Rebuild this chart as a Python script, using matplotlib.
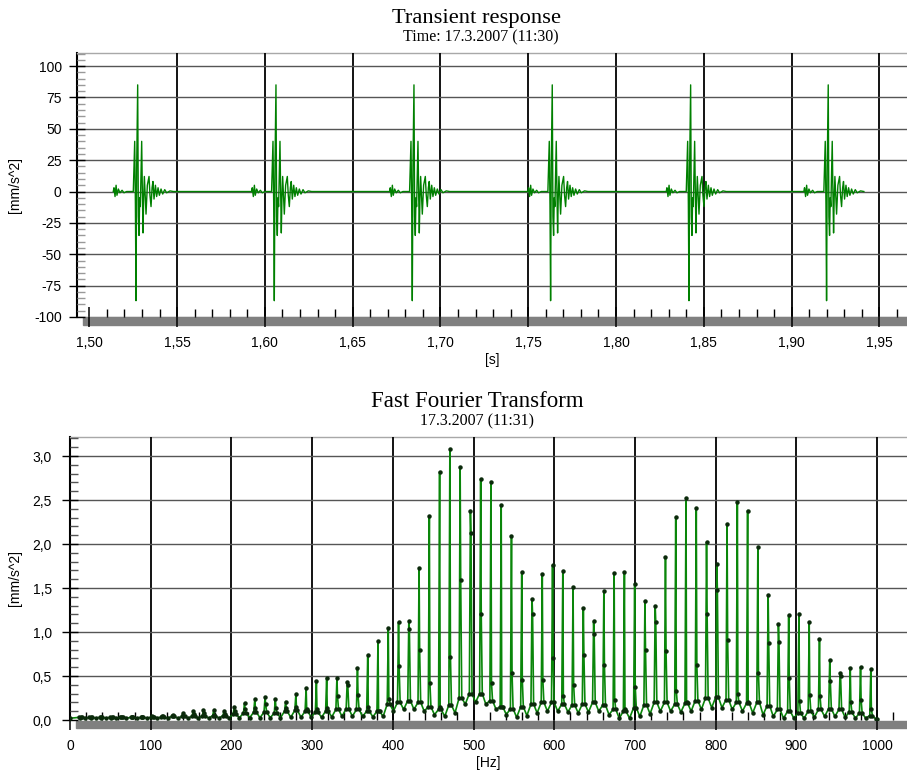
import numpy as np
import matplotlib
matplotlib.use('Agg')
import matplotlib.pyplot as plt
from matplotlib.ticker import MultipleLocator, FuncFormatter
from matplotlib.patches import Rectangle

# ---------------------------------------------------------------
#  transient response: six hits, each burst has the same shape
# ---------------------------------------------------------------
burst_peak_t = [1.52756, 1.60632, 1.68491, 1.76367, 1.84248, 1.92084]

burst_dt_ms = [-13.9, -13.5, -12.9, -12.3, -11.8, -11.0, -10.1, -8.9, -7.8, -6.3,
               -2.5, -1.7, -1.3, -0.95, -0.57, 0.0, 0.38, 0.76, 1.14, 1.5,
               1.9, 2.28, 2.66, 3.04, 3.4, 3.8, 4.2, 4.75, 5.5, 6.46,
               7.0, 7.6, 8.2, 8.7, 9.3, 10.1, 10.8, 11.6, 12.35, 13.3,
               14.25, 15.4, 16.5, 18.4, 20.3]
burst_val = [0, 3, -4, 5, -3, 2, -1, 1, -1, 0,
             0, 40, -10, -87, 20, 85, -20, -35, -5, -12,
             15, 40, 0, -33, -5, 12, 0, -18, 5, 12,
             -3, -12, 3, 8, -6, 5, -4, 3, -3, 2,
             -2, 1.5, -1, 0.5, 0]

time_ticks = [1.50, 1.55, 1.60, 1.65, 1.70, 1.75, 1.80, 1.85, 1.90, 1.95]
acc_ticks = [-100, -75, -50, -25, 0, 25, 50, 75, 100]

# ---------------------------------------------------------------
#  FFT: harmonics of the hit rate (k = 1..78)
# ---------------------------------------------------------------
f0 = 12.72  # Hz

peak = [0.02, 0.02, 0.02, 0.025, 0.03, 0.03, 0.035, 0.04,
        0.046, 0.06, 0.08, 0.10, 0.11, 0.11, 0.10, 0.15, 0.19, 0.24, 0.26, 0.24,
        0.21, 0.29, 0.36, 0.44, 0.48, 0.48, 0.43, 0.59, 0.74, 0.90,
        1.04, 1.11, 1.125, 1.73, 2.32, 2.82, 3.08, 2.875, 2.38, 2.74,
        2.71, 2.44, 2.09, 1.68, 1.375, 1.66, 1.76, 1.69, 1.51, 1.27,
        1.12, 1.47, 1.67, 1.68, 1.55, 1.35, 1.29, 1.85, 2.31, 2.52,
        2.41, 2.02, 1.77, 2.23, 2.48, 2.38, 1.97, 1.42, 1.09, 1.19,
        1.21, 1.11, 0.92, 0.68, 0.53, 0.59, 0.60, 0.58]
shoulder = [0.03, 0.03, 0.03, 0.03, 0.03, 0.03, 0.03, 0.03,
            0.04, 0.05, 0.05, 0.07, 0.08, 0.06, 0.07, 0.10, 0.12, 0.14, 0.18, 0.14,
            0.14, 0.15, 0.12, 0.12, 0.14, 0.27, 0.40, 0.28, 0.15, 0.10,
            0.24, 0.61, 1.03, 0.79, 0.42, 0.15, 0.72, 1.59, 2.125, 1.20,
            0.42, 0.15, 0.53, 0.45, 1.21, 0.46, 0.71, 0.27, 0.40, 0.74,
            0.98, 0.62, 0.23, 0.13, 0.38, 0.80, 1.11, 0.78, 0.33, 0.20,
            0.63, 1.21, 1.48, 0.91, 0.29, 0.20, 0.53, 0.87, 0.89, 0.48,
            0.22, 0.28, 0.27, 0.44, 0.50, 0.20, 0.23, 0.12]
skirt = [0.03, 0.03, 0.03, 0.03, 0.03, 0.03, 0.03, 0.03,
         0.035, 0.04, 0.04, 0.045, 0.05, 0.05, 0.05, 0.07, 0.08, 0.09, 0.09, 0.08,
         0.10, 0.11, 0.10, 0.09, 0.10, 0.12, 0.13, 0.12, 0.10, 0.10,
         0.18, 0.20, 0.22, 0.20, 0.15, 0.12, 0.17, 0.25, 0.30, 0.30,
         0.22, 0.15, 0.13, 0.15, 0.18, 0.20, 0.20, 0.18, 0.17, 0.18,
         0.20, 0.17, 0.12, 0.10, 0.14, 0.17, 0.20, 0.20, 0.18, 0.19,
         0.22, 0.25, 0.26, 0.23, 0.20, 0.19, 0.20, 0.16, 0.12, 0.10,
         0.08, 0.10, 0.12, 0.13, 0.12, 0.09, 0.08, 0.05]
trough = [0.02] * 15 + [0.025] * 5 + \
         [0.03, 0.03, 0.03, 0.03, 0.035, 0.04, 0.04, 0.04, 0.035, 0.04,
          0.10, 0.12, 0.12, 0.10, 0.06, 0.04, 0.08, 0.18, 0.20, 0.18,
          0.12, 0.06, 0.03, 0.05, 0.08, 0.10, 0.10, 0.09, 0.08, 0.09,
          0.10, 0.06, 0.02, 0.02, 0.04, 0.07, 0.10, 0.10, 0.09, 0.10,
          0.12, 0.14, 0.14, 0.12, 0.10, 0.08, 0.06, 0.04, 0.02, 0.02,
          0.02, 0.03, 0.04, 0.04, 0.03, 0.02, 0.02, 0.01]

freq_ticks = [0, 100, 200, 300, 400, 500, 600, 700, 800, 900, 1000]
amp_ticks = [0.0, 0.5, 1.0, 1.5, 2.0, 2.5, 3.0]


###########################
#  build the curves
###########################
t_sig, a_sig = [], []
for tp in burst_peak_t:
    for dt, v in zip(burst_dt_ms, burst_val):
        t_sig.append(tp + dt / 1000.0)
        a_sig.append(v)

f_sig, m_sig = [0.0], [0.02]
for k in range(len(peak)):
    fk = (k + 1) * f0
    f_sig += [fk - 1.3, fk, fk + 0.7, fk + 2.0, fk + f0 / 2]
    m_sig += [skirt[k], peak[k], shoulder[k], skirt[k], trough[k]]
f_sig.append(1000.0)
m_sig.append(0.01)


###########################
#  figure
###########################
W, H = 907, 773
plt.rcParams['font.family'] = ['Liberation Sans', 'DejaVu Sans']
plt.rcParams['axes.unicode_minus'] = False
fig = plt.figure(figsize=(W / 100, H / 100), dpi=100)


def fx(px):
    return px / W


def fy(py):
    return 1 - py / H


def style_axes(ax, left_px, bottom_px, minor_col, ypad):
    for s in ['right', 'bottom']:
        ax.spines[s].set_visible(False)
    ax.spines['top'].set_color('#a8a8a8')
    ax.spines['top'].set_linewidth(1.0)
    ax.spines['left'].set_color('black')
    ax.spines['left'].set_linewidth(1.5)
    ax.tick_params(axis='x', which='major', direction='inout', length=14, width=1.1,
                   color='black', labelsize=10, pad=7)
    ax.tick_params(axis='x', which='minor', direction='in', length=6, width=1.0, color='black')
    ax.tick_params(axis='y', which='major', direction='inout', length=11, width=1.0,
                   color='black', labelsize=10, pad=ypad)
    ax.tick_params(axis='y', which='minor', direction='in', length=6, width=1.0, color=minor_col)
    ax.set_axisbelow(False)
    # grey shadow bar under the plot
    fig.add_artist(Rectangle((fx(left_px + 6), fy(bottom_px + 8)), 1 - fx(left_px + 6),
                             fy(bottom_px + 0.5) - fy(bottom_px + 8),
                             transform=fig.transFigure, color='#808080', zorder=-1))


# ---------------- Transient response ----------------
ax1 = fig.add_axes([fx(77), fy(317), 1 - fx(77), fy(52.5) - fy(317)])
ax1.plot(t_sig, a_sig, color='#008000', lw=1.0, zorder=3)
ax1.set_xlim(1.4930, 1.9657)
ax1.set_ylim(-100, 110.8)
ax1.set_xticks(time_ticks)
ax1.set_yticks(acc_ticks)
ax1.xaxis.set_minor_locator(MultipleLocator(0.01))
ax1.yaxis.set_minor_locator(MultipleLocator(5))
ax1.xaxis.set_major_formatter(FuncFormatter(lambda v, p: f'{v:.2f}'.replace('.', ',')))
ax1.yaxis.set_major_formatter(FuncFormatter(lambda v, p: f'{v:.0f}'))
ax1.grid(axis='x', color='black', lw=1.3)
ax1.grid(axis='y', color='#555555', lw=1.0)
ax1.get_xgridlines()[0].set_visible(False)
style_axes(ax1, 77, 317, '#999999', 5.5)
ax1.set_xlabel('[s]', fontsize=10, labelpad=2)

fig.text(fx(476), fy(23), 'Transient response', family='Liberation Serif',
         fontsize=16.2, ha='center', va='baseline')
fig.text(fx(481), fy(41), 'Time: 17.3.2007 (11:30)', family='Liberation Serif',
         fontsize=11.5, ha='center', va='baseline')
fig.text(fx(15), fy(185), '[mm/s^2]', fontsize=10, rotation=90, ha='center', va='center')

# ---------------- Fast Fourier Transform ----------------
ax2 = fig.add_axes([fx(70), fy(720), 1 - fx(70), fy(437) - fy(720)])
ax2.plot(f_sig, m_sig, color='#0a860a', lw=1.2, zorder=3,
         marker='o', ms=2.2, mfc='#0b2a0b', mec='#0b2a0b')
ax2.set_xlim(0, 1037)
ax2.set_ylim(0, 3.216)
ax2.set_xticks(freq_ticks)
ax2.set_yticks(amp_ticks)
ax2.xaxis.set_minor_locator(MultipleLocator(20))
ax2.yaxis.set_minor_locator(MultipleLocator(0.1))
ax2.xaxis.set_major_formatter(FuncFormatter(lambda v, p: f'{v:.0f}'))
ax2.yaxis.set_major_formatter(FuncFormatter(lambda v, p: f'{v:.1f}'.replace('.', ',')))
ax2.grid(axis='x', color='black', lw=1.3)
ax2.grid(axis='y', color='#555555', lw=1.0)
ax2.get_xgridlines()[0].set_visible(False)
ax2.get_ygridlines()[0].set_visible(False)
style_axes(ax2, 70, 720, '#555555', 7.5)
ax2.set_xlabel('[Hz]', fontsize=10, labelpad=2)

fig.text(fx(477.5), fy(407), 'Fast Fourier Transform', family='Liberation Serif',
         fontsize=16.5, ha='center', va='baseline')
fig.text(fx(476.5), fy(425), '17.3.2007 (11:31)', family='Liberation Serif',
         fontsize=11.5, ha='center', va='baseline')
fig.text(fx(15), fy(578), '[mm/s^2]', fontsize=10, rotation=90, ha='center', va='center')

fig.savefig('out.png', dpi=100)
